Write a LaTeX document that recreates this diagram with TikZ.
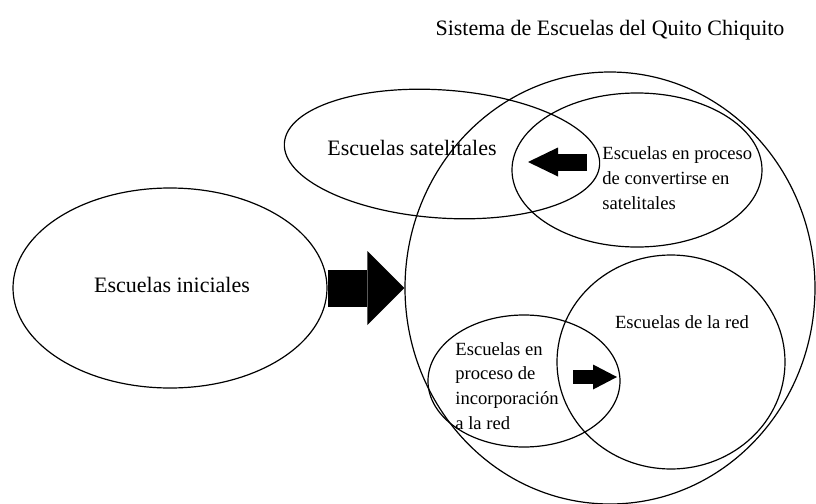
\documentclass[tikz,border=0pt]{standalone}
\usepackage{fontspec}
\setmainfont{Liberation Serif}
\usetikzlibrary{arrows.meta,shapes.geometric,positioning}

\tikzset{
  conjunto/.style={ellipse,draw,line width=0.6pt,inner sep=0pt},
  texto/.style={font=\fontsize{11}{13}\selectfont},
  textochico/.style={font=\fontsize{9.3}{12.4}\selectfont,align=left,inner sep=0pt},
  flecha/.style n args={3}{line width=#1,-{Triangle[length=#2,width=#3,line width=0pt]}}
}

\begin{document}
\begin{tikzpicture}[x=0.5pt,y=-0.5pt]
\useasboundingbox (0,0) rectangle (816,504);
\node[texto] (titulo) at (610,30) {Sistema de Escuelas del Quito Chiquito};

\begin{scope}[every node/.style={conjunto}]
    \node[minimum width=205pt,minimum height=216pt] (sis) at (610,288) {};
    \node[minimum width=157pt,minimum height=100pt] (ini) at (170,288) {};
    \node[minimum width=158pt,minimum height=64pt,rotate=-4] (sat) at (442,154) {};
    \node[minimum width=125pt,minimum height=77pt] (conv) at (637,170) {};
    \node[minimum width=114pt,minimum height=107pt] (red) at (671,362) {};
    \node[minimum width=96pt,minimum height=66pt] (inc) at (524,381) {};
\end{scope}

\node[texto] (tIni) at (172,285) {Escuelas iniciales};
\node[texto] (tSat) at (412,148) {Escuelas satelitales};
\node[textochico,anchor=west] (tConv) at (602,178) {Escuelas en proceso\\de convertirse en\\satelitales};
\node[textochico] (tRed) at (682,322) {Escuelas de la red};
\node[textochico,anchor=west] (tInc) at (455,386) {Escuelas en\\proceso de\\incorporación\\a la red};

\coordinate (satIni) at (587,162);
\coordinate (satFin) at (528,162);
\coordinate (redIni) at (573,377);
\coordinate (redFin) at (617,377);

\path (ini) edge[flecha={18.5pt}{18.5pt}{37pt}] (sis);
\path (satIni) edge[flecha={8.5pt}{15pt}{14.5pt}] (satFin);
\path (redIni) edge[flecha={7pt}{12pt}{12.5pt}] (redFin);
\end{tikzpicture}
\end{document}
